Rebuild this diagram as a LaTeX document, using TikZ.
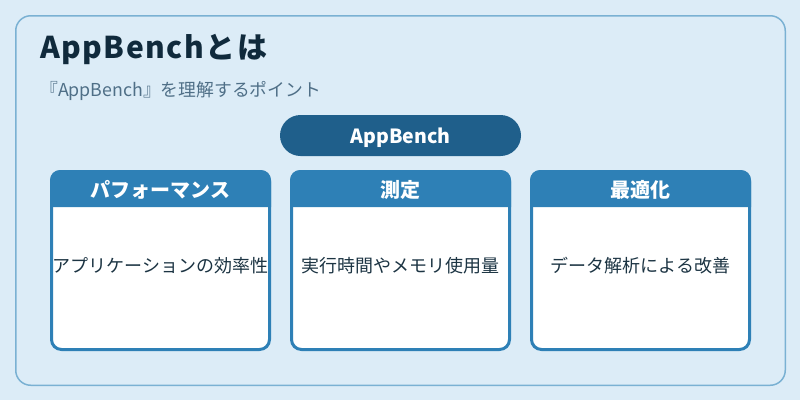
\documentclass[tikz,border=0pt]{standalone}
\usepackage{fontspec}
\setmainfont{Noto Sans CJK JP}
\usetikzlibrary{shapes.misc}
\definecolor{pagebg}{HTML}{DCECF7}
\definecolor{framecol}{HTML}{7AB1D3}
\definecolor{titlecol}{HTML}{102A3C}
\definecolor{subcol}{HTML}{4F6F87}
\definecolor{pillcol}{HTML}{1F5F8B}
\definecolor{cardcol}{HTML}{2E80B6}
\definecolor{bodycol}{HTML}{1C3443}
\begin{document}
\begin{tikzpicture}[x=1pt,y=-1pt,
  title/.style={anchor=base west,inner sep=0pt,text=titlecol,font=\fontsize{30}{36}\selectfont\bfseries\addfontfeature{LetterSpace=5}},
  subtitle/.style={anchor=base west,inner sep=0pt,text=subcol,font=\fontsize{17.8}{22}\selectfont},
  pill/.style={rounded rectangle,fill=pillcol,text=white,minimum width=241pt,minimum height=41pt,inner sep=0pt,text height=15pt,text depth=0pt,font=\fontsize{19.5}{24}\selectfont\bfseries},
  card/.style={draw=cardcol,line width=3pt,fill=white,rounded corners=10pt,minimum width=218pt,minimum height=178pt,inner sep=0pt},
  head/.style={inner sep=0pt,text=white,font=\fontsize{20}{24}\selectfont\bfseries},
  body/.style={inner sep=0pt,text=bodycol,font=\fontsize{18}{22}\selectfont}]
\path[use as bounding box,fill=pagebg] (0,0) rectangle (800,400);
\draw[framecol,line width=1.5pt,rounded corners=15pt] (15.75,15.75) rectangle (785.25,385.25);
\node[title] (titletext) at (40,58) {AppBenchとは};
\node[subtitle] (subtext) at (40,96) {『AppBench』を理解するポイント};
\node[pill] (root) at (400.5,135.5) {AppBench};
\foreach \x/\nm/\hd/\bd in {160.5/perf/パフォーマンス/アプリケーションの効率性,
                            400.5/meas/測定/実行時間やメモリ使用量,
                            640.5/opti/最適化/データ解析による改善}{
  \node[card] (\nm card) at (\x,260.5) {};
  \fill[cardcol] (\x-110.5,207) {[rounded corners=10pt] -- (\x-110.5,170) -- (\x+110.5,170)} -- (\x+110.5,207) -- cycle;
  \node[head] (\nm head) at (\x,190) {\hd};
  \node[body] (\nm body) at (\x,266) {\bd};
}
\end{tikzpicture}
\end{document}
